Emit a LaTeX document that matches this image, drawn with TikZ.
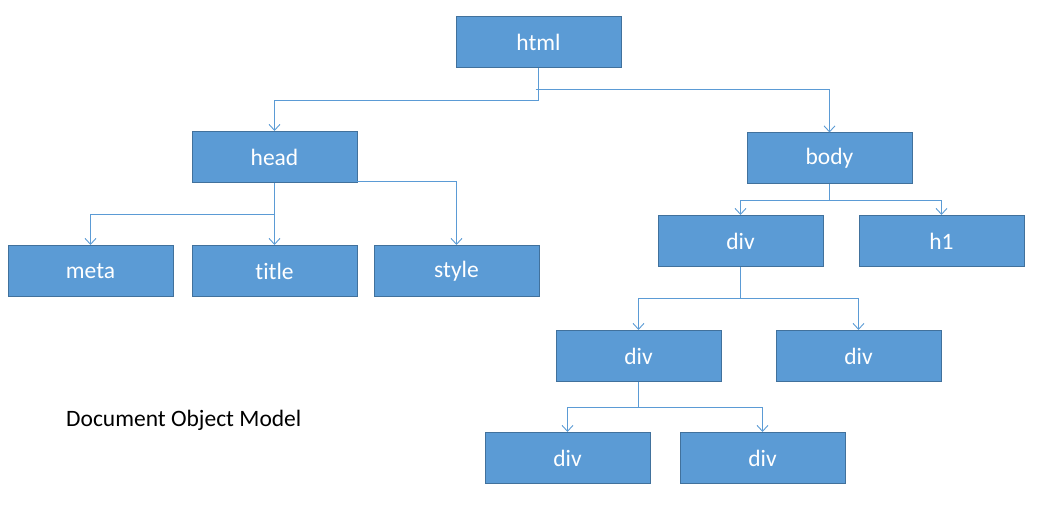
\documentclass[tikz,border=0pt]{standalone}
\usepackage{fontspec}
\setmainfont[Ligatures=NoCommon]{Carlito}
\usetikzlibrary{arrows.meta}
\definecolor{boxfill}{HTML}{5B9BD5}
\definecolor{boxline}{HTML}{41719C}
\definecolor{conn}{HTML}{5B9BD5}
\begin{document}
\begin{tikzpicture}[x=1pt,y=-1pt,
  box/.style={draw=boxline,line width=1pt,fill=boxfill,minimum width=165pt,minimum height=51pt,inner sep=0pt,text=white,font=\fontsize{23.5}{26}\selectfont},
  link/.style={draw=conn,line width=0.9pt,-{Straight Barb[length=6pt,width=11pt,line width=0.9pt]}}]
\useasboundingbox (0,0) rectangle (1051,513);
\node[box] (html) at (538.5,42.5) {html};
\node[box] (head) at (274.5,157) {head};
\node[box] (body) at (829.5,158.5) {body};
\node[box] (meta) at (90.5,271) {meta};
\node[box] (title) at (274.5,271) {title};
\node[box] (style) at (456.5,271) {style};
\node[box] (div1) at (740.5,241) {div};
\node[box] (h1) at (941.5,241) {h1};
\node[box] (div2) at (638.5,356) {div};
\node[box] (div3) at (858.5,356) {div};
\node[box] (div4) at (567.5,458) {div};
\node[box] (div5) at (762.5,458) {div};
\node[anchor=base west,inner sep=0pt,font=\fontsize{23.5}{26}\selectfont] (lbl) at (66,426) {Document Object Model};
% html
\draw[link] (html.south) -- ++(0,31.5) -| (head.north);
\draw[link] ([xshift=-3pt]html.south |- 0,89) -| (body.north);
% head
\draw[link] (head.south) -- ++(0,31) -| (meta.north);
\draw[link] (head.south) -- (title.north);
\draw[link] ([yshift=1.5pt]head.south) -| (style.north);
% body
\draw[link] (body.south) -- ++(0,16) -| (div1.north);
\draw[link] (body.south) -- ++(0,16) -| (h1.north);
% div1
\draw[link] (div1.south) -- ++(0,31) -| (div2.north);
\draw[link] (div1.south) -- ++(0,31) -| (div3.north);
% div2
\draw[link] (div2.south) -- ++(0,25) -| (div4.north);
\draw[link] (div2.south) -- ++(0,25) -| (div5.north);
\end{tikzpicture}
\end{document}
